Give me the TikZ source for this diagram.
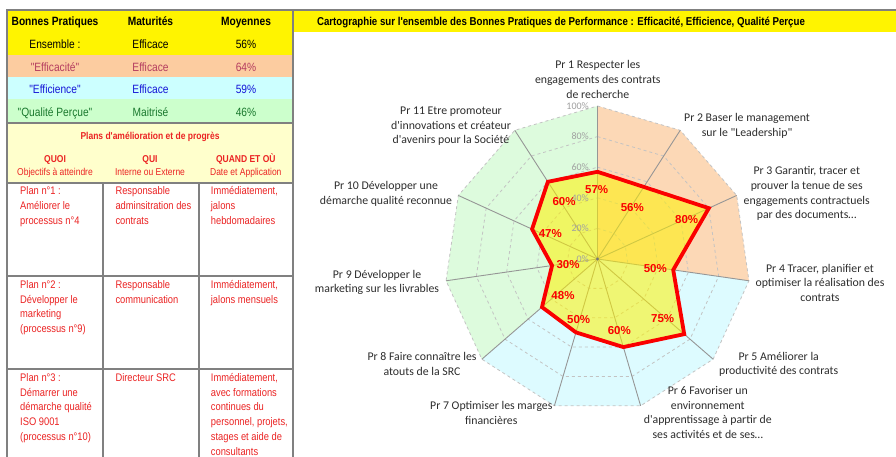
\documentclass[tikz,border=0pt]{standalone}
\usepackage{fontspec}
\setmainfont{Liberation Sans}
\newfontfamily\tabfont{Liberation Sans}[FakeStretch=0.85]
\newfontfamily\chartfont{Carlito}
\newfontfamily\datafont{Liberation Sans}
\definecolor{framegray}{RGB}{128,128,128}
\definecolor{titleyellow}{RGB}{255,244,0}
\definecolor{rowor}{RGB}{252,204,160}
\definecolor{rowbl}{RGB}{204,255,255}
\definecolor{rowgr}{RGB}{204,255,204}
\definecolor{lightyel}{RGB}{255,255,204}
\definecolor{efftxt}{RGB}{180,60,95}
\definecolor{efitxt}{RGB}{20,20,215}
\definecolor{qualtxt}{RGB}{25,120,45}
\definecolor{plantxt}{RGB}{235,35,35}
\definecolor{secor}{RGB}{252,216,182}
\definecolor{secbl}{RGB}{221,251,255}
\definecolor{secgr}{RGB}{221,251,221}
\definecolor{axisgray}{RGB}{150,150,150}
\definecolor{gridgray}{RGB}{195,195,195}
\definecolor{lbltxt}{RGB}{45,45,45}
\definecolor{scalegray}{RGB}{160,160,160}
\definecolor{datared}{RGB}{250,0,0}
\begin{document}
\begin{tikzpicture}[x=1pt,y=-1pt,
  frame/.style={draw=framegray,line width=2pt},
  thead/.style={font=\tabfont\fontsize{12}{14}\bfseries,anchor=base,inner sep=0pt},
  titlelbl/.style={font=\tabfont\fontsize{11.4}{14}\bfseries,anchor=base,inner sep=0pt},
  tcell/.style={font=\tabfont\fontsize{12}{14}\selectfont,anchor=base,inner sep=0pt},
  phead/.style={font=\tabfont\fontsize{10}{12}\bfseries,text=plantxt,anchor=base,inner sep=0pt},
  psub/.style={font=\tabfont\fontsize{10}{12}\selectfont,text=plantxt,anchor=base,inner sep=0pt},
  pcell/.style={font=\tabfont\fontsize{11}{14.7}\selectfont,text=plantxt,anchor=north west,inner sep=0pt,align=left},
  prlbl/.style={font=\chartfont\fontsize{11.8}{14.7}\selectfont,text=lbltxt,align=center,inner sep=0pt},
  scalelbl/.style={font=\chartfont\fontsize{10}{12}\selectfont,text=scalegray,anchor=east,inner sep=0pt},
  datalbl/.style={font=\datafont\fontsize{11.5}{13}\bfseries,text=datared,inner sep=0pt},
  gridring/.style={draw=gridgray,dashed,line width=0.8pt},
  axisline/.style={draw=axisgray,line width=0.9pt},
  datapoly/.style={draw=datared,line width=3.8pt,fill=yellow,fill opacity=0.55,line join=miter}
]
\useasboundingbox (0,0) rectangle (896,457);
\fill[white] (0,0) rectangle (896,457);

% ---- left tables backgrounds
\fill[titleyellow] (7,10) rectangle (293,55);
\fill[rowor] (7,55) rectangle (293,77.3);
\fill[rowbl] (7,77.3) rectangle (293,99.3);
\fill[rowgr] (7,99.3) rectangle (293,122);
\fill[lightyel] (7,123) rectangle (293,183);
\fill[titleyellow] (293,11) rectangle (896,32);

% ---- frame lines
\draw[frame] (7,457) -- (7,10) -- (896,10);
\draw[frame] (293,10) -- (293,457);
\draw[frame] (7,123) -- (293,123);
\draw[frame] (7,183) -- (293,183);
\draw[frame] (7,276) -- (293,276);
\draw[frame] (7,368.5) -- (293,368.5);
\draw[frame] (103,183) -- (103,457);
\draw[frame] (199,183) -- (199,457);

% ---- top table text
\node[thead] (h1) at (55,26) {Bonnes Pratiques};
\node[thead] (h2) at (150.5,26) {Maturités};
\node[thead] (h3) at (246,26) {Moyennes};
\node[tcell] (r1a) at (55,48.5) {Ensemble :};
\node[tcell] (r1b) at (150.5,48.5) {Efficace};
\node[tcell] (r1c) at (246,48.5) {56\%};
\node[tcell,text=efftxt] (r2a) at (55,71.5) {"Efficacité"};
\node[tcell,text=efftxt] (r2b) at (150.5,71.5) {Efficace};
\node[tcell,text=efftxt] (r2c) at (246,71.5) {64\%};
\node[tcell,text=efitxt] (r3a) at (55,94) {"Efficience"};
\node[tcell,text=efitxt] (r3b) at (150.5,94) {Efficace};
\node[tcell,text=efitxt] (r3c) at (246,94) {59\%};
\node[tcell,text=qualtxt] (r4a) at (55,116.3) {"Qualité Perçue"};
\node[tcell,text=qualtxt] (r4b) at (150.5,116.3) {Maitrisé};
\node[tcell,text=qualtxt] (r4c) at (246,116.3) {46\%};

% ---- plans header
\node[phead] (ph) at (150,140) {Plans d'amélioration et de progrès};
\node[phead] (q1) at (55,163) {QUOI};
\node[phead] (q2) at (150,163) {QUI};
\node[phead] (q3) at (245.8,163) {QUAND ET OÙ};
\node[psub] (s1) at (55,175.5) {Objectifs à atteindre};
\node[psub] (s2) at (150,175.5) {Interne ou Externe};
\node[psub] (s3) at (245.8,175.5) {Date et Application};

% ---- plans body
\node[pcell] (p1a) at (20,186.5) {Plan n°1 :\\Améliorer le\\processus n°4};
\node[pcell] (p1b) at (115.3,186.5) {Responsable\\adminsitration des\\contrats};
\node[pcell] (p1c) at (210.7,186.5) {Immédiatement,\\jalons\\hebdomadaires};
\node[pcell] (p2a) at (20,280.2) {Plan n°2 :\\Développer le\\marketing\\(processus n°9)};
\node[pcell] (p2b) at (115.3,280.2) {Responsable\\communication};
\node[pcell] (p2c) at (210.7,280.2) {Immédiatement,\\jalons mensuels};
\node[pcell] (p3a) at (20,373.2) {Plan n°3 :\\Démarrer une\\démarche qualité\\ISO 9001\\(processus n°10)};
\node[pcell] (p3b) at (115.3,373.2) {Directeur SRC};
\node[pcell] (p3c) at (210.7,373.2) {Immédiatement,\\avec formations\\continues du\\personnel, projets,\\stages et aide de\\consultants};

% ---- title
\node[titlelbl] (title) at (561,25.8) {Cartographie sur l'ensemble des Bonnes Pratiques de Performance : Efficacité, Efficience, Qualité Perçue};

% ---- radar
\begin{scope}[shift={(597.5,259)}]
  \coordinate (c) at (0,0);
  \foreach \i in {0,...,10}{
    \coordinate (v\i) at ({-90+\i*32.72727}:153);
  }
  \fill[secor] (c) -- (v0) -- (v1) -- (v2) -- (v3) -- cycle;
  \fill[secbl] (c) -- (v3) -- (v4) -- (v5) -- (v6) -- (v7) -- cycle;
  \fill[secgr] (c) -- (v7) -- (v8) -- (v9) -- (v10) -- (v0) -- cycle;
  \foreach \k in {1,...,5}{
    \draw[gridring] (-90:{\k*30.6}) \foreach \i in {1,...,10}{ -- ({-90+\i*32.72727}:{\k*30.6})} -- cycle;
  }
  \foreach \i in {0,...,10}{
    \draw[axisline] (c) -- (v\i);
  }
  \foreach \i/\v in {0/57,1/56,2/80,3/50,4/75,5/60,6/50,7/48,8/30,9/47,10/60}{
    \coordinate (p\i) at ({-90+\i*32.72727}:{1.53*\v});
  }
  \draw[datapoly] (p0) -- (p1) -- (p2) -- (p3) -- (p4) -- (p5) -- (p6) -- (p7) -- (p8) -- (p9) -- (p10) -- cycle;
  \fill[axisgray!80!black] (c) circle (1.6);
\end{scope}

% ---- scale labels
\node[scalelbl] (s100) at (589,106) {100\%};
\node[scalelbl] (s80) at (589,136.6) {80\%};
\node[scalelbl] (s60) at (589,167.2) {60\%};
\node[scalelbl] (s40) at (589,197.8) {40\%};
\node[scalelbl] (s20) at (589,228.4) {20\%};
\node[scalelbl] (s0) at (589,259) {0\%};

% ---- data labels
\node[datalbl] (d1) at (596.7,190) {57\%};
\node[datalbl] (d2) at (632.3,207.7) {56\%};
\node[datalbl] (d3) at (686.7,219.3) {80\%};
\node[datalbl] (d4) at (655.3,268.3) {50\%};
\node[datalbl] (d5) at (662.7,318.7) {75\%};
\node[datalbl] (d6) at (619.3,330.7) {60\%};
\node[datalbl] (d7) at (578.7,320) {50\%};
\node[datalbl] (d8) at (563,296) {48\%};
\node[datalbl] (d9) at (568,264.7) {30\%};
\node[datalbl] (d10) at (550.3,234) {47\%};
\node[datalbl] (d11) at (564,201.7) {60\%};

% ---- axis labels
\node[prlbl] (L1) at (597.8,79.5) {Pr 1 Respecter les\\engagements des contrats\\de recherche};
\node[prlbl] (L2) at (747,126.2) {Pr 2 Baser le management\\sur le "Leadership"};
\node[prlbl] (L3) at (806.7,193.8) {Pr 3 Garantir, tracer et\\prouver la tenue de ses\\engagements contractuels\\par des documents…};
\node[prlbl] (L4) at (820,282.8) {Pr 4 Tracer, planifier et\\optimiser la réalisation des\\contrats};
\node[prlbl] (L5) at (778.7,364.5) {Pr 5 Améliorer la\\productivité des contrats};
\node[prlbl] (L6) at (707.8,412.5) {Pr 6 Favoriser un\\environnement\\d'apprentissage à partir de\\ses activités et de ses…};
\node[prlbl] (L7) at (491.3,412.8) {Pr 7 Optimiser les marges\\financières};
\node[prlbl] (L8) at (422,364.2) {Pr 8 Faire connaître les\\atouts de la SRC};
\node[prlbl] (L9) at (377,282.5) {Pr 9 Développer le\\marketing sur les livrables};
\node[prlbl] (L10) at (386,194.2) {Pr 10 Développer une\\démarche qualité reconnue};
\node[prlbl] (L11) at (451,126.2) {Pr 11 Etre promoteur\\d'innovations et créateur\\d'avenirs pour la Société};
\end{tikzpicture}
\end{document}
